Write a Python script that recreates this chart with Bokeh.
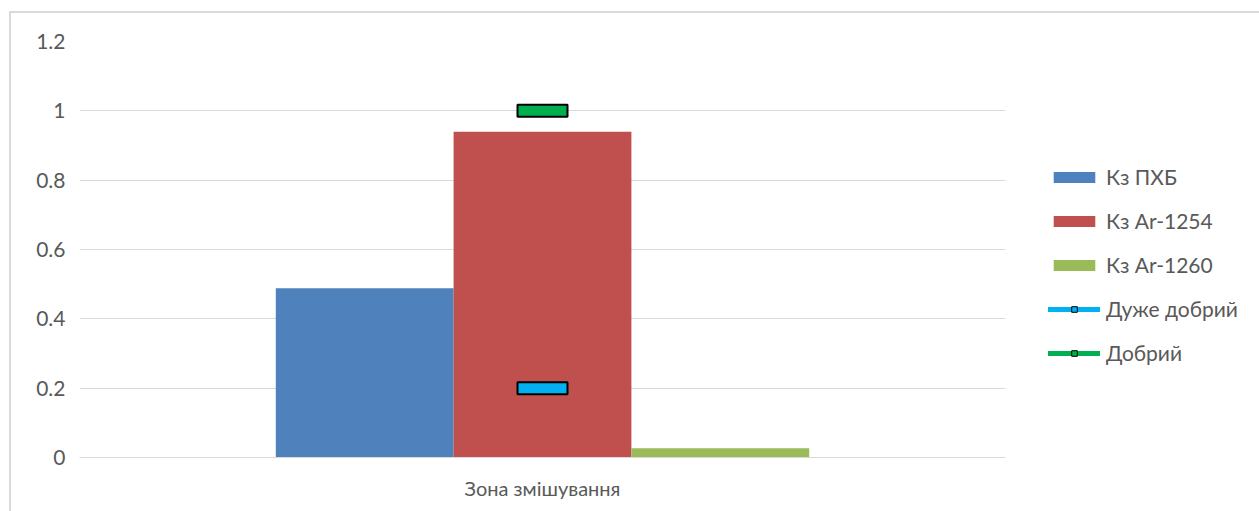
from bokeh.plotting import figure
from bokeh.models import (FactorRange, FixedTicker, PrintfTickFormatter, Legend,
                          LegendItem, ColumnDataSource)
from bokeh.transform import dodge
from bokeh.embed import file_html
from bokeh.resources import INLINE

# --- data -------------------------------------------------------------
zone = ["Зона змішування"]
bar_series = ["Кз ПХБ", "Кз Ar-1254", "Кз Ar-1260"]
kz_pcb = [0.488]
kz_ar1254 = [0.94]
kz_ar1260 = [0.027]
class_names = ["Дуже добрий", "Добрий"]
very_good = [0.2]
good = [1.0]
y_ticks = [0, 0.2, 0.4, 0.6, 0.8, 1.0, 1.2]

# --- style ------------------------------------------------------------
FONT = "Lato"
TEXT = "#595959"
GRID = "#d9d9d9"
BAR_W = 0.192

src = ColumnDataSource(dict(zone=zone, pcb=kz_pcb, ar1254=kz_ar1254, ar1260=kz_ar1260,
                            vgood=very_good, good=good))

p = figure(x_range=FactorRange(*zone), y_range=(0, 1.2),
           frame_width=926, frame_height=416, output_backend="svg", toolbar_location=None,
           min_border_left=68, min_border_right=0, min_border_top=28, min_border_bottom=54)
p.margin = (11, 0, 0, 9)
p.styles = {"border-top": "2px solid #d9d9d9", "border-left": "2px solid #d9d9d9"}
p.outline_line_color = None
p.background_fill_color = "white"
p.border_fill_color = "white"

p.xgrid.visible = False
p.ygrid.grid_line_color = GRID
p.ygrid.grid_line_width = 1

p.yaxis.ticker = FixedTicker(ticks=y_ticks)
p.yaxis.formatter = PrintfTickFormatter(format="%g")
p.yaxis.axis_line_color = None
p.yaxis.major_tick_line_color = None
p.yaxis.minor_tick_line_color = None
p.yaxis.major_tick_in = 0
p.yaxis.major_tick_out = 0
p.yaxis.major_label_standoff = 14
p.yaxis.major_label_text_font = FONT
p.yaxis.major_label_text_font_size = "21px"
p.yaxis.major_label_text_color = TEXT

p.xaxis.axis_line_color = GRID
p.xaxis.major_tick_line_color = None
p.xaxis.minor_tick_line_color = None
p.xaxis.major_tick_in = 0
p.xaxis.major_tick_out = 0
p.xaxis.major_label_standoff = 18
p.xaxis.major_label_text_font = FONT
p.xaxis.major_label_text_font_size = "20px"
p.xaxis.major_label_text_color = TEXT

# bars
r_pcb = p.vbar(x=dodge("zone", -BAR_W, range=p.x_range), top="pcb", width=BAR_W,
               source=src, fill_color="#4F81BD", line_color=None)
r_1254 = p.vbar(x=dodge("zone", 0, range=p.x_range), top="ar1254", width=BAR_W,
                source=src, fill_color="#C0504D", line_color=None)
r_1260 = p.vbar(x=dodge("zone", BAR_W, range=p.x_range), top="ar1260", width=BAR_W,
                source=src, fill_color="#9BBB59", line_color=None)

# quality class reference levels
l_vg = p.line(x="zone", y="vgood", line_color="#00B0F0", line_width=5, line_cap="round", source=src)
s_vg = p.scatter(x="zone", y="vgood", marker="square", size=6, fill_color="#00B0F0",
                 line_color="black", line_width=1, source=src)
l_g = p.line(x="zone", y="good", line_color="#00B050", line_width=5, line_cap="round", source=src)
s_g = p.scatter(x="zone", y="good", marker="square", size=6, fill_color="#00B050",
                line_color="black", line_width=1, source=src)
p.rect(x="zone", y="vgood", width=50, height=12, width_units="screen", height_units="screen",
       fill_color="#00B0F0", line_color="black", line_width=2, source=src)
p.rect(x="zone", y="good", width=50, height=12, width_units="screen", height_units="screen",
       fill_color="#00B050", line_color="black", line_width=2, source=src)

legend = Legend(items=[
    LegendItem(label=bar_series[0], renderers=[r_pcb]),
    LegendItem(label=bar_series[1], renderers=[r_1254]),
    LegendItem(label=bar_series[2], renderers=[r_1260]),
    LegendItem(label=class_names[0], renderers=[l_vg, s_vg]),
    LegendItem(label=class_names[1], renderers=[l_g, s_g]),
], location=(43, 92))
legend.glyph_width = 52
legend.glyph_height = 14
legend.label_height = 20
legend.spacing = 19
legend.label_standoff = 6
legend.padding = 0
legend.margin = 0
legend.border_line_color = None
legend.background_fill_alpha = 0
legend.label_text_font = FONT
legend.label_text_font_size = "21px"
legend.label_text_color = TEXT
p.add_layout(legend, "right")

open("out.html", "w").write(file_html(p, INLINE))
